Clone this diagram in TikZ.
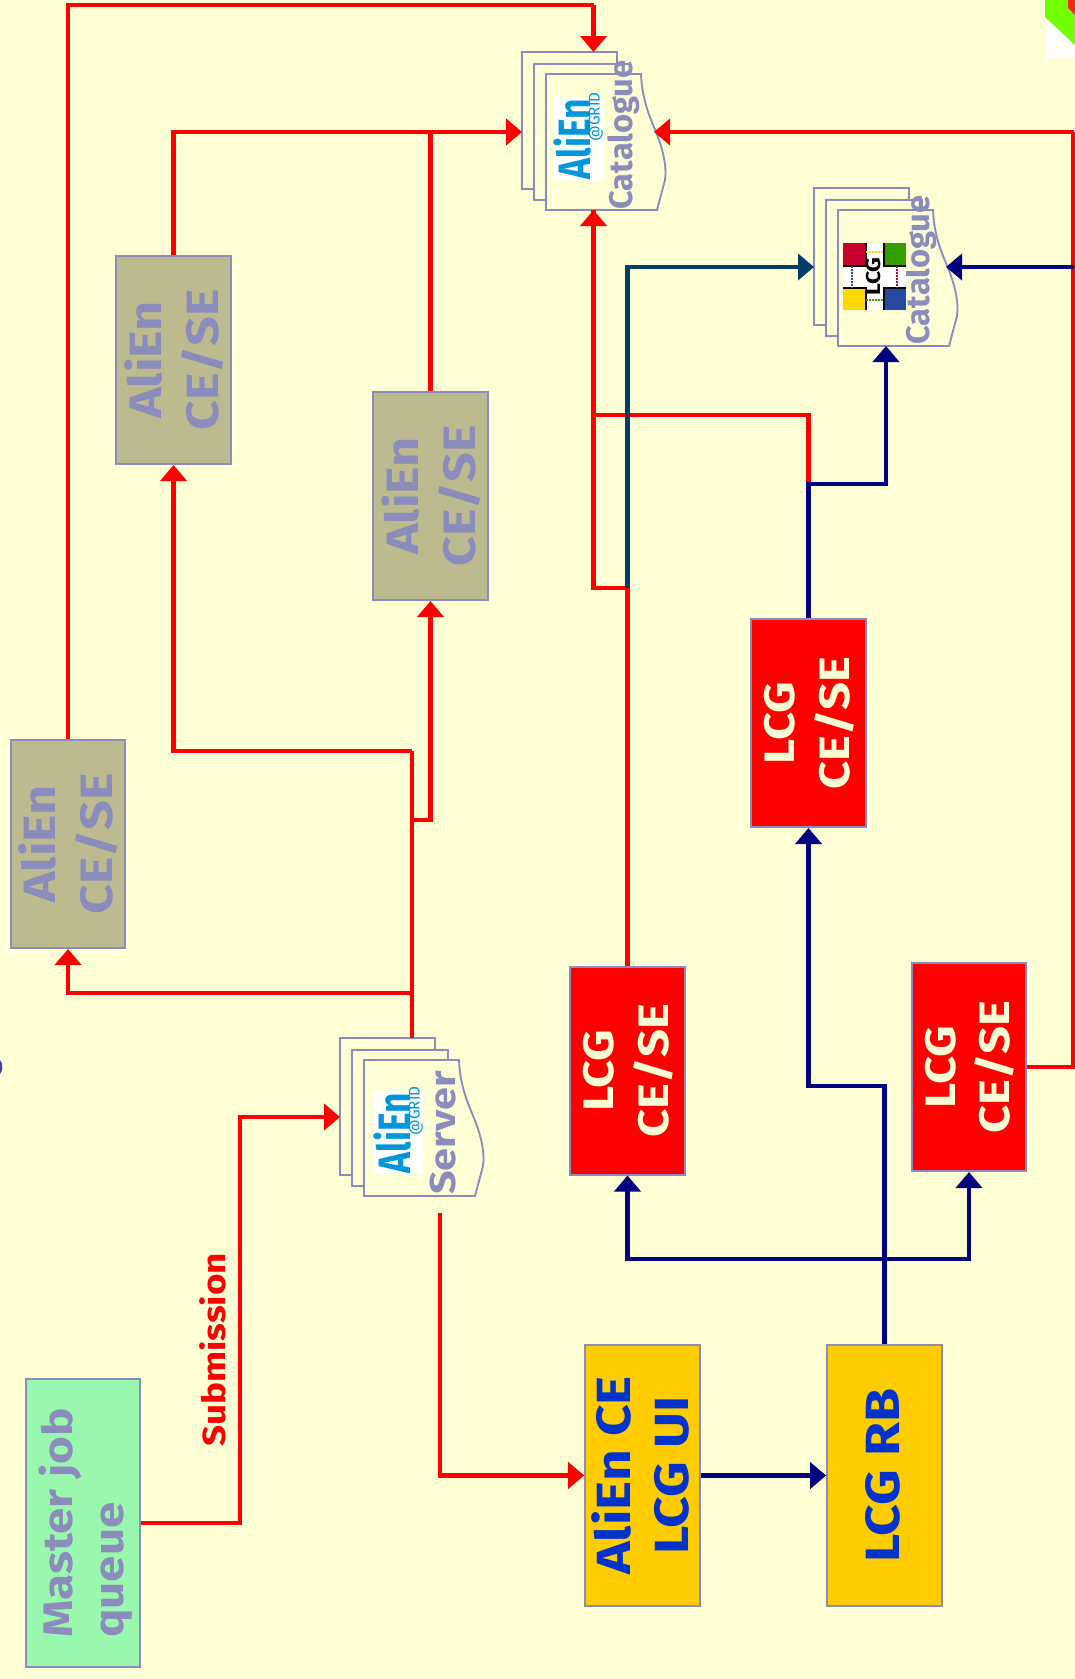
\documentclass[tikz,border=0pt]{standalone}
\usepackage{fontspec}
\usepackage{graphicx}
\setmainfont[FakeStretch=1.15]{Fira Sans}
\newfontfamily\plainfam{Fira Sans}
\newfontfamily\logofam[FakeStretch=0.78]{Fira Sans}
\usetikzlibrary{arrows.meta,calc}
\definecolor{bgc}{RGB}{255,255,214}
\definecolor{edgec}{RGB}{140,140,188}
\definecolor{olivec}{RGB}{187,187,143}
\definecolor{mintc}{RGB}{153,248,174}
\definecolor{amberc}{RGB}{255,204,0}
\definecolor{inkblue}{RGB}{0,51,204}
\definecolor{navyc}{RGB}{0,0,128}
\definecolor{tealc}{RGB}{0,60,104}
\definecolor{logoblue}{RGB}{0,150,220}
\definecolor{lgred}{RGB}{200,0,47}
\definecolor{lggreen}{RGB}{51,160,0}
\definecolor{lgyellow}{RGB}{255,216,0}
\definecolor{lgblue}{RGB}{38,74,160}
\tikzset{
  x=0.75pt,y=-0.75pt,
  boxbase/.style={draw=edgec,line width=1.5pt,inner sep=0pt,align=center,font=\bfseries},
  alienbox/.style={boxbase,fill=olivec,text=edgec,minimum width=86pt,minimum height=156pt},
  lcgbox/.style={boxbase,fill=red,text=bgc,minimum width=86pt,minimum height=156pt},
  orangebox/.style={boxbase,fill=amberc,text=inkblue,minimum width=86pt,minimum height=196pt},
  masterbox/.style={boxbase,fill=mintc,text=edgec,minimum width=86pt,minimum height=216pt},
  redflow/.style={draw=red,line width=3.6pt,-{Triangle[width=19.5pt,length=12pt]}},
  redline/.style={draw=red,line width=3.6pt},
  navyflow/.style={draw=navyc,line width=3.6pt,-{Triangle[width=19.5pt,length=12pt]}},
  navyline/.style={draw=navyc,line width=3.6pt},
  tealflow/.style={draw=tealc,line width=3.6pt,-{Triangle[width=19.5pt,length=12pt]}},
  sheet/.style={draw=edgec,line width=1.4pt,fill=bgc},
  doclabel/.style={text=edgec,rotate=90,inner sep=0pt}
}
\newcommand{\rtxt}[3][c]{\hspace*{3.5pt}\rotatebox{90}{\fontsize{#2}{#2}\selectfont\begin{tabular}{@{}#1@{}}#3\end{tabular}}\hspace*{-3.5pt}}
% document stack, origin is the top-left of the back sheet
\newcommand{\docstack}[2]{%
  \begin{scope}[shift={(#1,#2)}]
    \draw[sheet] (0,0) rectangle (95,137);
    \draw[sheet] (12,12) rectangle (108,148);
    \draw[sheet] (24,22) -- (119,22) .. controls (120,50) and (130,70) .. (134,80) .. controls (141,97) and (145,115) .. (143,128) -- (135,158) -- (24,158) -- cycle;
  \end{scope}}
\newcommand{\alienlogo}[2]{%
  \begin{scope}[shift={(#1,#2)}]
    \fill[white] (31,45) rectangle (81,128);
    \node[rotate=90,text=logoblue,font=\logofam\bfseries\fontsize{34}{34}\selectfont,inner sep=0pt] at (50,87) {AliEn};
    \node[rotate=90,text=logoblue,font=\plainfam\fontsize{11.5}{11.5}\selectfont,inner sep=0pt] at (74,65) {@GRID};
  \end{scope}}
\begin{document}
\begin{tikzpicture}
\useasboundingbox (0,0) rectangle (1075,1679);
\fill[bgc] (0,0) rectangle (1075,1679);
% corner ornament
\fill[white] (1045,0) rectangle (1075,58);
\fill[green!55!yellow] (1045,0) -- (1045,17) -- (1075,45) -- (1075,0) -- cycle;
\fill[red!85!yellow] (1068,0) -- (1068,8) -- (1075,15) -- (1075,0) -- cycle;
\fill[navyc!75!bgc] (0,1060) .. controls (3,1063) and (3,1071) .. (0,1074) -- cycle;
% boxes
\node[masterbox] (master) at (83,1523) {\rtxt[l]{31}{Master job\\[7pt]queue}};
\node[orangebox] (ui) at (642.5,1475.5) {\rtxt{36}{AliEn CE\\[7pt]LCG UI}};
\node[orangebox] (rb) at (884.5,1475.5) {\rtxt{36}{LCG RB}};
\node[lcgbox] (lcga) at (627.5,1070.5) {\rtxt{32}{LCG\\[5pt]CE/SE}};
\node[lcgbox] (lcgb) at (969,1067) {\rtxt{32}{LCG\\[5pt]CE/SE}};
\node[lcgbox] (lcgc) at (808.5,723) {\rtxt{32}{LCG\\[5pt]CE/SE}};
\node[alienbox] (a1) at (68,844) {\rtxt{34}{AliEn\\[5pt]CE/SE}};
\node[alienbox] (a2) at (173.5,360) {\rtxt{34}{AliEn\\[5pt]CE/SE}};
\node[alienbox] (a3) at (430.5,496) {\rtxt{34}{AliEn\\[5pt]CE/SE}};
% document stacks
\docstack{522}{52}
\alienlogo{522}{52}
\node[doclabel,font=\plainfam\bfseries\fontsize{24.5}{24.5}\selectfont] (alcat) at (624,135) {Catalogue};
\docstack{814}{188}
\node[doclabel,font=\plainfam\bfseries\fontsize{24.5}{24.5}\selectfont] (lgcat) at (921,270) {Catalogue};
\docstack{340}{1038}
\alienlogo{342}{1046}
\node[doclabel,font=\bfseries\fontsize{27}{27}\selectfont] (srv) at (443,1133) {Server};
% LCG logo
\begin{scope}[shift={(843,243)}]
  \fill[white] (0,0) rectangle (63,67);
  \fill[lgred] (0,0) rectangle (23,23);
  \fill[lggreen] (41,0) rectangle (63,23);
  \fill[lgyellow] (0,45) rectangle (23,67);
  \fill[lgblue] (41,45) rectangle (63,67);
  \draw[black,line width=1pt] (0,23) -- (23,23) -- (23,0) (41,0) -- (41,23) -- (63,23) (0,45) -- (23,45) -- (23,67) (41,67) -- (41,45) -- (63,45);
  \draw[densely dotted,line width=1.3pt,lgyellow] (23,9) -- (41,9);
  \draw[densely dotted,line width=1.3pt,lggreen] (23,57) -- (41,57);
  \draw[densely dotted,line width=1.3pt,lgblue] (9,23) -- (9,45);
  \draw[densely dotted,line width=1.3pt,lgred] (54,23) -- (54,45);
  \node[rotate=90,font=\bfseries\fontsize{15}{15}\selectfont,inner sep=0pt] (lcglogo) at (31,33.5) {LCG};
\end{scope}
% connector anchors
\coordinate (catTop) at (593.5,52);
\coordinate (catBot) at (593.5,210);
\coordinate (catLeft) at (522,132);
\coordinate (catRight) at (654,132);
\coordinate (lgLeft) at (814,267);
\coordinate (lgRight) at (946,267);
\coordinate (lgBot) at (886,346);
\coordinate (srvLeft) at (340,1117);
\coordinate (srvTop) at (412,1038);
\coordinate (srvBot) at (440,1213);
\coordinate (edgeR) at (1073.5,132);
\coordinate (topBus) at (68,5);
\coordinate (bus1) at (412,993);
\coordinate (bus2) at (412,751);
\coordinate (bus3) at (412,820);
\coordinate (redA) at (627.5,588);
\coordinate (redC) at (808.5,484);
\coordinate (redD) at (808.5,415);
\coordinate (navyJ) at (884.5,1259);
\coordinate (navyK) at (808.5,1086);
% red connectors
\draw[redline] (a1.north) -- (topBus) -- (topBus -| catTop);
\draw[redflow] (topBus -| catTop) -- (catTop);
\draw[redflow] (a2.north) |- (catLeft);
\draw[redline] (a3.north) -- (a3.north |- catLeft);
\draw[redline] (lcgb.east) -| (edgeR);
\draw[redflow] (edgeR) -- (catRight);
\draw[redline] (srvTop) -- (bus2);
\draw[redflow] (bus1) -| (a1.south);
\draw[redflow] (bus2) -| (a2.south);
\draw[redflow] (bus3) -| (a3.south);
\draw[redflow] (master.east |- 0,1523) -| (240,1117) -- (srvLeft);
\draw[redflow] (srvBot) |- (ui.west);
\node[rotate=90,text=red,font=\bfseries\fontsize{24}{24}\selectfont,inner sep=0pt] (sub) at (213,1350) {Submission};
\draw[redline] (lcga.north) -- (redA);
\draw[redflow] (redA) -| (catBot);
\draw[redline] (redC) -- (redD) -| (catBot);
% navy connectors
\draw[navyflow] (ui.east) -- (rb.west);
\draw[navyline] (rb.north) -- (navyJ);
\draw[navyflow] (navyJ) -- (navyK -| rb.north) -- (navyK) -- (lcgc.south);
\draw[navyflow] (navyJ) -| (lcga.south);
\draw[navyflow] (navyJ) -| (lcgb.south);
\draw[navyflow] (lcgc.north) -- (redC) -| (lgBot);
\draw[navyflow] (edgeR |- lgRight) -- (lgRight);
\draw[tealflow] (redA) |- (lgLeft);
\end{tikzpicture}
\end{document}
